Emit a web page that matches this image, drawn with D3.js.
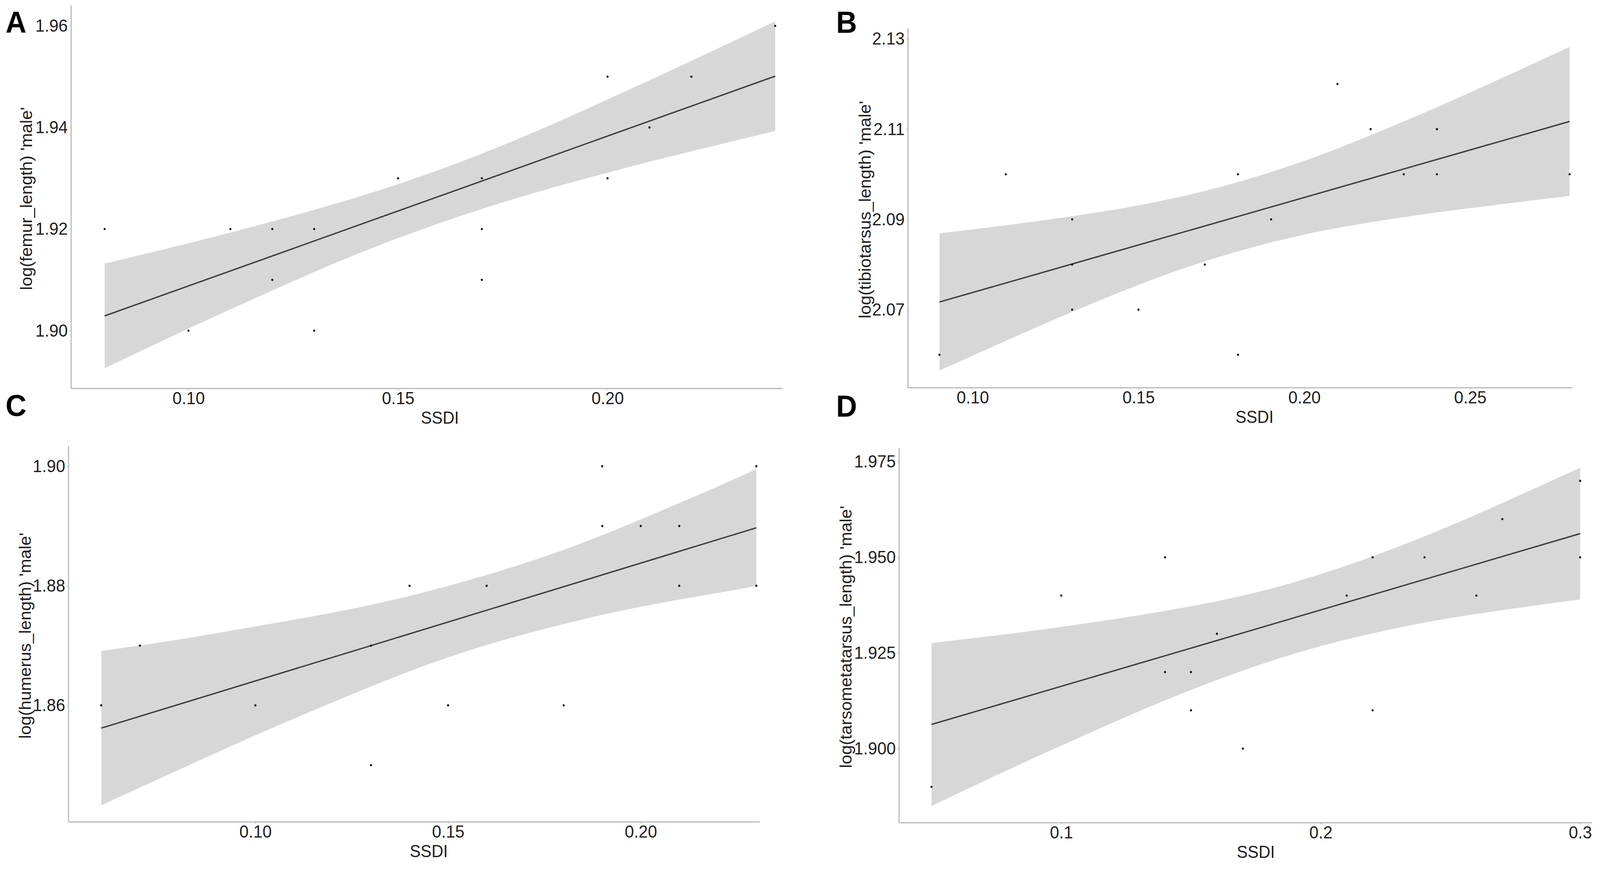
<!DOCTYPE html>
<html>
<head>
<meta charset="utf-8">
<script src="https://cdn.jsdelivr.net/npm/d3@7"></script>
<style>
  html, body { margin: 0; padding: 0; background: #fff; overflow: hidden; }
  svg { display: block; width: 100vw; height: 100vh; }
  text { font-family: "Liberation Sans", Arial, sans-serif; }
</style>
</head>
<body>
<div id="figure"></div>
<script>
// Panel A - femur
var femurSSDI = [0.08, 0.10, 0.11, 0.12, 0.12, 0.13, 0.13, 0.15, 0.17, 0.17, 0.17, 0.20, 0.20, 0.21, 0.22, 0.24]
var femurLog  = [1.92, 1.90, 1.92, 1.92, 1.91, 1.92, 1.90, 1.93, 1.93, 1.92, 1.91, 1.95, 1.93, 1.94, 1.95, 1.96]
var femurFitX = [0.08, 0.24]
var femurFitY = [1.9029, 1.9501]
var femurBandX  = [0.08, 0.10, 0.12, 0.14, 0.16, 0.18, 0.20, 0.22, 0.24]
var femurBandLo = [1.8926, 1.9004, 1.9079, 1.9150, 1.9212, 1.9265, 1.9311, 1.9353, 1.9393]
var femurBandHi = [1.9132, 1.9172, 1.9215, 1.9262, 1.9317, 1.9382, 1.9455, 1.9531, 1.9609]
var femurXTicks = [0.10, 0.15, 0.20]
var femurYTicks = [1.90, 1.92, 1.94, 1.96]

// Panel B - tibiotarsus
var tibioSSDI = [0.09, 0.11, 0.13, 0.13, 0.13, 0.15, 0.17, 0.18, 0.18, 0.19, 0.21, 0.22, 0.23, 0.24, 0.24, 0.28]
var tibioLog  = [2.06, 2.10, 2.09, 2.08, 2.07, 2.07, 2.08, 2.10, 2.06, 2.09, 2.12, 2.11, 2.10, 2.11, 2.10, 2.10]
var tibioFitX = [0.09, 0.28]
var tibioFitY = [2.0717, 2.1117]
var tibioBandX  = [0.09, 0.11, 0.13, 0.15, 0.17, 0.19, 0.21, 0.23, 0.25, 0.28]
var tibioBandLo = [2.0565, 2.0631, 2.0695, 2.0755, 2.0807, 2.0849, 2.0881, 2.0905, 2.0925, 2.0952]
var tibioBandHi = [2.0869, 2.0887, 2.0907, 2.0931, 2.0963, 2.1005, 2.1057, 2.1117, 2.1181, 2.1282]
var tibioXTicks = [0.10, 0.15, 0.20, 0.25]
var tibioYTicks = [2.07, 2.09, 2.11, 2.13]

// Panel C - humerus
var humerusSSDI = [0.06, 0.07, 0.10, 0.13, 0.13, 0.14, 0.15, 0.16, 0.18, 0.19, 0.19, 0.20, 0.21, 0.21, 0.23, 0.23]
var humerusLog  = [1.86, 1.87, 1.86, 1.87, 1.85, 1.88, 1.86, 1.88, 1.86, 1.90, 1.89, 1.89, 1.89, 1.88, 1.90, 1.88]
var humerusFitX = [0.06, 0.23]
var humerusFitY = [1.8562, 1.8897]
var humerusBandX  = [0.06, 0.08, 0.10, 0.12, 0.14, 0.16, 0.18, 0.20, 0.22, 0.23]
var humerusBandLo = [1.8433, 1.8492, 1.8550, 1.8605, 1.8657, 1.8701, 1.8736, 1.8765, 1.8788, 1.8800]
var humerusBandHi = [1.8691, 1.8710, 1.8732, 1.8755, 1.8783, 1.8818, 1.8860, 1.8911, 1.8966, 1.8995]
var humerusXTicks = [0.10, 0.15, 0.20]
var humerusYTicks = [1.86, 1.88, 1.90]

// Panel D - tarsometatarsus
var tarsoSSDI = [0.05, 0.10, 0.14, 0.14, 0.15, 0.15, 0.16, 0.17, 0.21, 0.22, 0.22, 0.24, 0.26, 0.27, 0.30, 0.30]
var tarsoLog  = [1.89, 1.94, 1.95, 1.92, 1.92, 1.91, 1.93, 1.90, 1.94, 1.95, 1.91, 1.95, 1.94, 1.96, 1.97, 1.95]
var tarsoFitX = [0.05, 0.30]
var tarsoFitY = [1.9063, 1.9562]
var tarsoBandX  = [0.05, 0.08, 0.11, 0.14, 0.17, 0.20, 0.23, 0.26, 0.30]
var tarsoBandLo = [1.8850, 1.8946, 1.9038, 1.9126, 1.9204, 1.9268, 1.9316, 1.9352, 1.9390]
var tarsoBandHi = [1.9276, 1.9300, 1.9328, 1.9360, 1.9400, 1.9456, 1.9528, 1.9612, 1.9734]
var tarsoXTicks = [0.1, 0.2, 0.3]
var tarsoYTicks = [1.900, 1.925, 1.950, 1.975]

var xTitle = "SSDI"

// Some global parameters
var width = 4319;
var height = 2228;
var tickFontSize = 45;
var titleFontSize = 44;
var bandColor = "#d7d7d7"
var lineColor = "#3c3c3c"
var axisColor = "#b8b8b8"
var textColor = "#1e1e1e"

// drawn in 4319 x 2228 units and stretched to fill the window exactly
var svg = d3.select("#figure")
            .append("svg")
            .attr("viewBox", "0 0 " + width + " " + height)
            .attr("preserveAspectRatio", "none")

// One panel of the figure
function drawPanel(p) {
  var xScale = d3.scaleLinear().domain(p.xDomain).range([p.left, p.right])
  var yScale = d3.scaleLinear().domain(p.yDomain).range([p.bottom, p.top])

  var g = svg.append("g")

  // confidence band
  var band = p.bandX.map((d, i) => ({x: d, lo: p.bandLo[i], hi: p.bandHi[i]}))
  g.append("path")
   .datum(band)
   .attr("d", d3.area()
                .curve(d3.curveNatural)
                .x((d) => xScale(d.x))
                .y0((d) => yScale(d.lo))
                .y1((d) => yScale(d.hi)))
   .attr("fill", bandColor)

  // fitted line
  g.append("path")
   .datum(p.fitX.map((d, i) => [d, p.fitY[i]]))
   .attr("d", d3.line()
                .x((d) => xScale(d[0]))
                .y((d) => yScale(d[1])))
   .attr("fill", "none")
   .attr("stroke", lineColor)
   .attr("stroke-width", 3.5)

  // points
  g.selectAll("circle.pt")
   .data(p.xs)
   .enter()
   .append("circle")
   .attr("class", "pt")
   .attr("cx", (d) => xScale(d))
   .attr("cy", (d, i) => yScale(p.ys[i]))
   .attr("r", 2.8)
   .attr("fill", "#111")

  // axes
  var xAxis = d3.axisBottom(xScale).tickValues(p.xTicks).tickFormat(d3.format(p.xFormat))
                .tickSize(4).tickPadding(4)
  var yAxis = d3.axisLeft(yScale).tickValues(p.yTicks).tickFormat(d3.format(p.yFormat))
                .tickSize(4).tickPadding(5)

  var gx = g.append("g")
            .attr("transform", "translate(0," + p.bottom + ")")
            .call(xAxis)
  var gy = g.append("g")
            .attr("transform", "translate(" + p.left + ",0)")
            .call(yAxis)

  // the panels are cut at their right edge, so the x-axis line stops there
  gx.select(".domain").remove()
  gy.select(".domain").remove()
  g.append("line").attr("x1", p.left).attr("x2", p.axisEnd)
   .attr("y1", p.bottom).attr("y2", p.bottom)
   .attr("stroke", axisColor).attr("stroke-width", 3)
  g.append("line").attr("x1", p.left).attr("x2", p.left)
   .attr("y1", p.top - 8).attr("y2", p.bottom)
   .attr("stroke", axisColor).attr("stroke-width", 3)

  g.selectAll(".tick line").attr("stroke", axisColor).attr("stroke-width", 2)
  g.selectAll(".tick text")
   .attr("font-size", tickFontSize)
   .attr("font-family", "Liberation Sans, Arial, sans-serif")
   .attr("fill", textColor)

  // axis titles
  g.append("text")
   .attr("x", (p.left + p.right) / 2)
   .attr("y", p.bottom + 90)
   .attr("text-anchor", "middle")
   .attr("font-size", titleFontSize)
   .attr("fill", textColor)
   .text(xTitle)

  g.append("text")
   .attr("transform", "translate(" + p.yTitleX + "," + ((p.top + p.bottom) / 2) + ") rotate(-90)")
   .attr("text-anchor", "middle")
   .attr("dy", "0.35em")
   .attr("font-size", titleFontSize)
   .attr("fill", textColor)
   .text(p.yTitle)

  // panel letter
  svg.append("text")
     .attr("x", p.letterX)
     .attr("y", p.letterY)
     .attr("font-size", 78)
     .attr("font-weight", "bold")
     .attr("fill", "#000")
     .text(p.letter)
}

drawPanel({letter: "A", letterX: 15, letterY: 84,
           xs: femurSSDI, ys: femurLog, fitX: femurFitX, fitY: femurFitY,
           bandX: femurBandX, bandLo: femurBandLo, bandHi: femurBandHi,
           xTicks: femurXTicks, yTicks: femurYTicks, xFormat: ".2f", yFormat: ".2f",
           xDomain: [0.072, 0.248], yDomain: [1.8886, 1.9634],
           left: 192, right: 2183, top: 22, bottom: 995, axisEnd: 2113,
           yTitleX: 71, yTitle: "log(femur_length) 'male'"})

drawPanel({letter: "B", letterX: 2257, letterY: 84,
           xs: tibioSSDI, ys: tibioLog, fitX: tibioFitX, fitY: tibioFitY,
           bandX: tibioBandX, bandLo: tibioBandLo, bandHi: tibioBandHi,
           xTicks: tibioXTicks, yTicks: tibioYTicks, xFormat: ".2f", yFormat: ".2f",
           xDomain: [0.0805, 0.2895], yDomain: [2.0527, 2.1316],
           left: 2451, right: 4322, top: 81, bottom: 993, axisEnd: 4244,
           yTitleX: 2335, yTitle: "log(tibiotarsus_length) 'male'"})

drawPanel({letter: "C", letterX: 15, letterY: 1065,
           xs: humerusSSDI, ys: humerusLog, fitX: humerusFitX, fitY: humerusFitY,
           bandX: humerusBandX, bandLo: humerusBandLo, bandHi: humerusBandHi,
           xTicks: humerusXTicks, yTicks: humerusYTicks, xFormat: ".2f", yFormat: ".2f",
           xDomain: [0.0515, 0.2385], yDomain: [1.8405, 1.9028],
           left: 185, right: 2130, top: 1151, bottom: 2105, axisEnd: 2051,
           yTitleX: 68, yTitle: "log(humerus_length) 'male'"})

drawPanel({letter: "D", letterX: 2257, letterY: 1067,
           xs: tarsoSSDI, ys: tarsoLog, fitX: tarsoFitX, fitY: tarsoFitY,
           bandX: tarsoBandX, bandLo: tarsoBandLo, bandHi: tarsoBandHi,
           xTicks: tarsoXTicks, yTicks: tarsoYTicks, xFormat: ".1f", yFormat: ".3f",
           xDomain: [0.0375, 0.3125], yDomain: [1.8806, 1.9778],
           left: 2427, right: 4353, top: 1155, bottom: 2107, axisEnd: 4297,
           yTitleX: 2283, yTitle: "log(tarsometatarsus_length) 'male'"})
</script>
</body>
</html>
